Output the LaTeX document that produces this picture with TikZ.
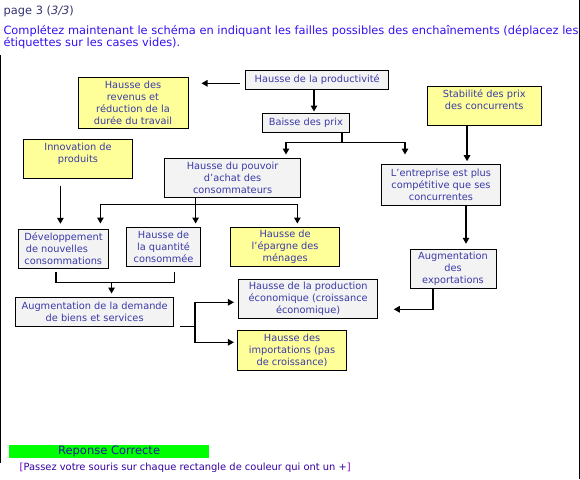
\documentclass[tikz,border=0pt]{standalone}
\usepackage{fontspec}
\setmainfont{DejaVu Sans}
\usetikzlibrary{arrows.meta,calc}
\definecolor{boxtext}{RGB}{58,58,168}
\definecolor{titlecol}{RGB}{51,51,112}
\definecolor{instrcol}{RGB}{51,17,238}
\definecolor{yfill}{RGB}{255,255,153}
\definecolor{gfill}{RGB}{243,243,243}
\definecolor{repcol}{RGB}{26,26,160}
\definecolor{passcol}{RGB}{51,0,160}
\definecolor{brackcol}{RGB}{122,0,204}
\newcommand{\boxfont}{\fontsize{9.8}{12}\selectfont}
\tikzset{
  basebox/.style={draw=black, line width=1pt, inner sep=0pt, align=center, font=\boxfont, text=boxtext},
  gbox/.style={basebox, fill=gfill},
  ybox/.style={basebox, fill=yfill},
  conn/.style={line width=1.2pt},
  arr/.style={line width=1.2pt, -{Triangle[length=6pt,width=6.5pt]}},
  instr/.style={anchor=base west, inner sep=0pt, text=instrcol, font=\fontsize{11.4}{12}\selectfont},
}
\begin{document}
\begin{tikzpicture}[x=1pt,y=-1pt]
\useasboundingbox (0,0) rectangle (580,479);
% frame lines
\draw[line width=1.2pt] (0.6,55) -- (0.6,463);
\draw[line width=1.2pt] (579.4,0) -- (579.4,479);
% header texts
\node[anchor=base west, inner sep=0pt, text=titlecol, font=\fontsize{11.4}{12}\selectfont] (title) at (3.5,14.5) {page 3 (\textit{3/3})};
\node[instr] (instr1) at (3.3,34.2) {Complétez maintenant le schéma en indiquant les failles possibles des enchaînements (déplacez les};
\node[instr] (instr2) at (3.3,46.2) {étiquettes sur les cases vides).};
% boxes
\node[gbox, minimum width=143.5pt, minimum height=19pt] (prod) at (317.2,79.8) {Hausse de la productivité};
\node[gbox, minimum width=87.6pt, minimum height=19.3pt] (baisse) at (305.8,122.65) {Baisse des prix};
\node[ybox, minimum width=110pt, minimum height=51pt] (revenus) at (133,102.5) {Hausse des\\revenus et\\réduction de la\\durée du travail};
\node[ybox, minimum width=114.5pt, minimum height=39.7pt] (stab) at (484.25,105.85) {Stabilité des prix\\des concurrents\\\mbox{}};
\node[ybox, minimum width=109.3pt, minimum height=39.4pt] (innov) at (78,159) {Innovation de\\produits\\\mbox{}};
\node[gbox, minimum width=135.6pt, minimum height=39.4pt] (pouvoir) at (232.6,178) {Hausse du pouvoir\\d'achat des\\consommateurs};
\node[gbox, minimum width=118.1pt, minimum height=41.3pt] (entreprise) at (441,184.65) {L'entreprise est plus\\compétitive que ses\\concurrentes};
\node[gbox, minimum width=90pt, minimum height=39pt, align=left] (dev) at (63.5,248.8) {Développement\\\hspace{1.5pt}de nouvelles\\consommations};
\node[gbox, minimum width=73.7pt, minimum height=39pt] (quantite) at (163.55,246.8) {Hausse de\\la quantité\\consommée};
\node[ybox, minimum width=108.9pt, minimum height=39pt] (epargne) at (285.15,246.8) {Hausse de\\l'épargne des\\ménages};
\node[gbox, minimum width=86pt, minimum height=39pt] (export) at (453,268.8) {Augmentation\\des\\exportations};
\node[gbox, minimum width=158.1pt, minimum height=29pt] (demande) at (94.65,311.8) {Augmentation de la demande\\de biens et services};
\node[gbox, minimum width=139.3pt, minimum height=39.4pt] (production) at (308.15,299) {Hausse de la production\\économique (croissance\\économique)};
\node[ybox, minimum width=109.3pt, minimum height=40pt] (importations) at (292.05,350.3) {Hausse des\\importations (pas\\de croissance)};
% connectors
\draw[arr] ($(prod.west)+(-5,3.5)$) -- ($(revenus.east |- prod.west)+(13,3.5)$);
\draw[arr] ($(prod.south)+(-3.2,0)$) -- ($(baisse.north -| prod.south)+(-3.2,-1)$);
\coordinate (bj) at ($(baisse.south east)+(-8.1,10)$);
\draw[conn] (baisse.south east -| bj) -- (bj);
\draw[arr] (bj) -| ($(pouvoir.north)+(53.4,-3.3)$);
\draw[arr] (bj) -| ($(entreprise.north)+(-36,-9)$);
\draw[arr] ($(stab.south)+(-17.2,0)$) -- ($(entreprise.north -| stab.south)+(-17.2,-2.3)$);
\draw[arr] ($(innov.south)+(-17.6,6.3)$) -- ($(dev.north -| innov.south)+(-17.6,-5)$);
\coordinate (pj) at ($(pouvoir.south)+(-37,6.6)$);
\draw[conn] (pouvoir.south -| pj) -- (pj);
\draw[arr] (pj) -| ($(dev.north)+(36.9,-5.3)$);
\draw[arr] (pj) -- ($(quantite.north -| pj)+(0,-3.3)$);
\draw[arr] (pj) -| ($(epargne.north)+(12.2,-3.3)$);
\draw[arr] ($(entreprise.south)+(25,0)$) -- ($(export.north -| entreprise.south)+(25,-5)$);
\coordinate (dj) at ($(demande.north)+(16.9,-14)$);
\draw[conn] ($(dev.south)+(-7.5,3.4)$) |- (dj);
\draw[conn] ($(quantite.south)+(10.9,5.4)$) |- (dj);
\draw[arr] (dj) -- ($(demande.north -| dj)+(0,-3.3)$);
\coordinate (sj) at ($(demande.south east)+(20.7,0)$);
\draw[conn] ($(demande.south east)+(5.3,0)$) -- (sj);
\draw[arr] (sj) |- ($(production.west)+(-4.1,3.3)$);
\draw[arr] (sj) |- ($(importations.west)+(-3,-8)$);
\draw[arr] ($(export.south)+(-20,0)$) |- ($(production.east)+(15.5,10.3)$);
% answer bar
\node[fill=green, inner sep=0pt, minimum width=200.4pt, minimum height=12.4pt, text=repcol, font=\fontsize{11.5}{12}\selectfont] (reponse) at (109.1,451.5) {Reponse Correcte};
\node[anchor=base, inner sep=0pt, text=passcol, font=\fontsize{9.9}{12}\selectfont] (passez) at (185.2,470.8) {\textcolor{brackcol}{[}Passez votre souris sur chaque rectangle de couleur qui ont un +\textcolor{brackcol}{]}};
\end{tikzpicture}
\end{document}
